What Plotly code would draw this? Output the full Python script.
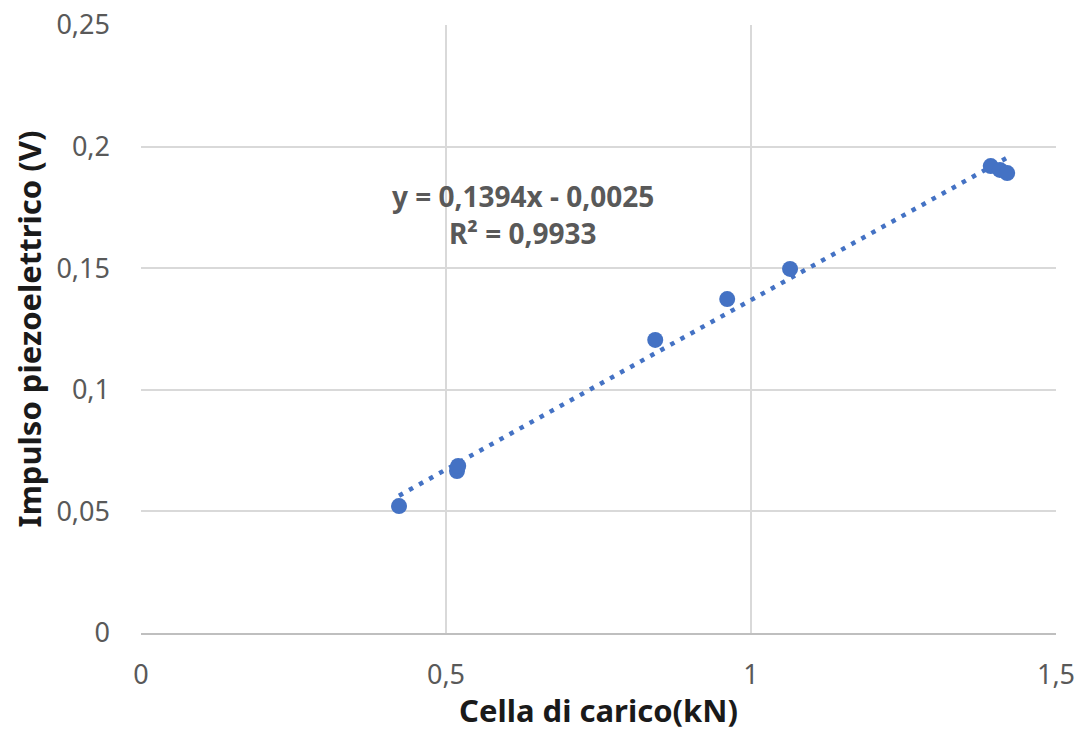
import plotly.graph_objects as go

# load cell readings (kN) and piezo pulse (V)
cella_kn = [0.423, 0.518, 0.520, 0.843, 0.961, 1.064, 1.393, 1.408, 1.420]
impulso_v = [0.0522, 0.0666, 0.0687, 0.1205, 0.1373, 0.1497, 0.1920, 0.1904, 0.1891]

# linear trendline coefficients as shown in the chart
slope = 0.1394
intercept = -0.0025
r2 = 0.9933

blu = "#4472C4"
grigio = "#595959"

trend_x = [min(cella_kn), max(cella_kn)]
trend_y = [slope * x + intercept for x in trend_x]

fig = go.Figure()
fig.add_trace(go.Scatter(x=trend_x, y=trend_y, mode="lines",
                         line=dict(color=blu, width=4.5, dash="4.5px,7px"),
                         hoverinfo="skip", showlegend=False))
fig.add_trace(go.Scatter(x=cella_kn, y=impulso_v, mode="markers",
                         marker=dict(color=blu, size=16),
                         showlegend=False))

eq_text = "y = {:.4f}x - {:.4f}".format(slope, -intercept).replace(".", ",")
r2_text = "R² = {:.4f}".format(r2).replace(".", ",")
fig.add_annotation(x=0.626, y=0.1797, xref="x", yref="y",
                   text="<b>" + eq_text + "</b>", showarrow=False,
                   font=dict(size=28, color=grigio))
fig.add_annotation(x=0.626, y=0.1645, xref="x", yref="y",
                   text="<b>" + r2_text + "</b>", showarrow=False,
                   font=dict(size=28, color=grigio))

# page body has an 8px margin, so the figure is a bit smaller than the window
fig.update_layout(
    width=1075, height=723,
    margin=dict(l=133, r=27, t=17, b=98),
    paper_bgcolor="white", plot_bgcolor="white",
    separators=",.",
    font=dict(family="Noto Sans, sans-serif", size=27, color=grigio),
    xaxis=dict(range=[0, 1.5], dtick=0.5, showgrid=True, gridcolor="#d9d9d9",
               gridwidth=1.5, zeroline=False, showline=True, linecolor="#bfbfbf",
               linewidth=1.5, ticks="", ticklabelstandoff=17, automargin=False,
               ticklabeloverflow="allow",
               title=dict(text="<b>Cella di carico(kN)</b>", standoff=14,
                          font=dict(size=31, color="#1a1a1a"))),
    yaxis=dict(range=[0, 0.25], dtick=0.05, showgrid=True, gridcolor="#d9d9d9",
               gridwidth=1.5, zeroline=False, showline=False, ticks="",
               ticklabelstandoff=30, automargin=False, ticklabeloverflow="allow",
               title=dict(text="<b>Impulso piezoelettrico (V)</b>", standoff=5,
                          font=dict(size=31, color="#1a1a1a"))),
)

fig.write_html("out.html")
